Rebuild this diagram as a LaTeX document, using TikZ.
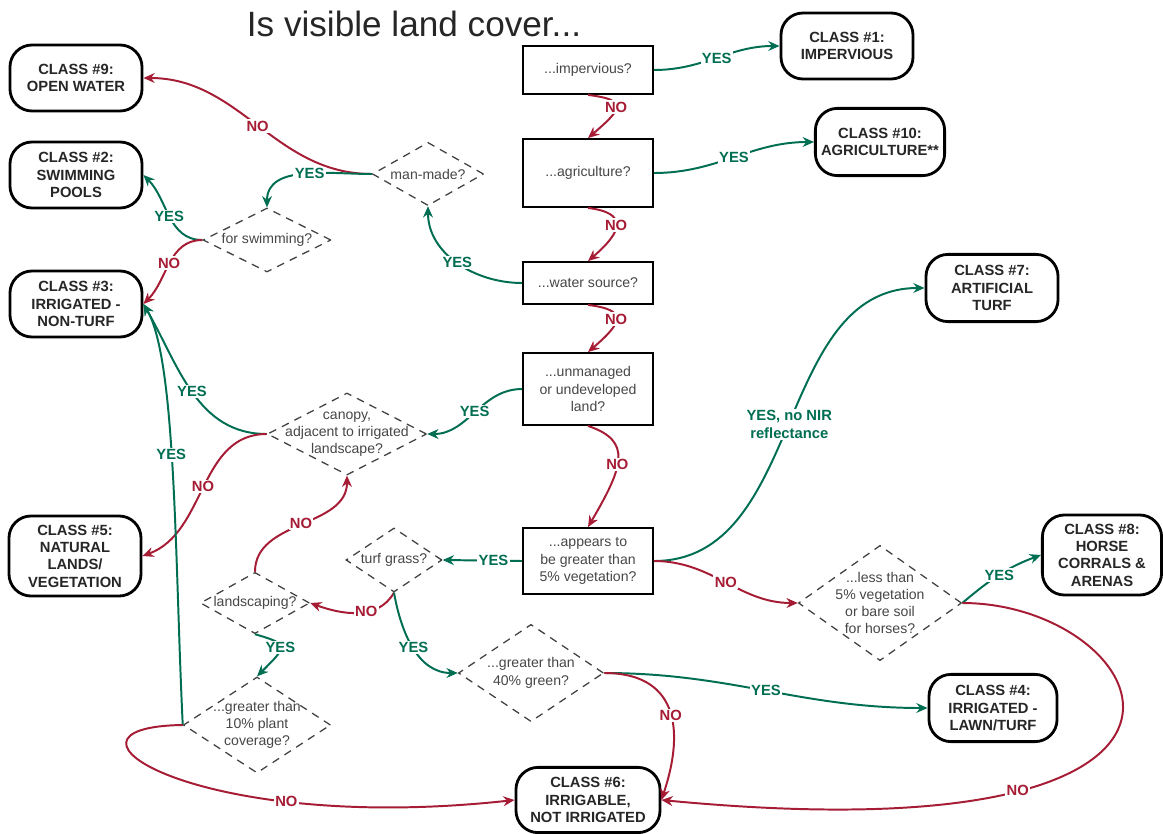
\documentclass[tikz,border=0pt]{standalone}
\usepackage{fontspec}
\setmainfont{Liberation Sans}
\usepackage{tikz}
\usetikzlibrary{shapes.geometric,arrows.meta}
\definecolor{yesgreen}{RGB}{0,110,82}
\definecolor{nored}{RGB}{165,28,52}
\definecolor{asktext}{RGB}{70,70,70}

\tikzset{
  classbox/.style={draw, line width=2pt, rounded corners=0.55cm, align=center, text=black!85,
    font=\bfseries\fontsize{10.5}{12.3}\selectfont, minimum width=3.3cm, minimum height=1.65cm, inner sep=2pt},
  askbox/.style={draw, line width=1.3pt, align=center, text=asktext,
    font=\fontsize{10}{12.3}\selectfont, minimum width=3.25cm, inner sep=2pt},
  askdia/.style={diamond, draw=black!75, line width=0.9pt, dash pattern=on 5.5pt off 4.5pt, inner sep=0pt},
  diatext/.style={align=center, text=asktext, font=\fontsize{10}{12.3}\selectfont, inner sep=0pt},
  yesline/.style={yesgreen, line width=1.4pt, -{Stealth[length=8pt,width=7pt]}},
  noline/.style={nored, line width=1.4pt, -{Stealth[length=8pt,width=7pt]}},
  yeslbl/.style={fill=white, text=yesgreen, font=\bfseries\fontsize{10.5}{12.5}\selectfont, inner sep=1pt, align=center},
  nolbl/.style={fill=white, text=nored, font=\bfseries\fontsize{10.5}{12.5}\selectfont, inner sep=1pt},
}

\begin{document}
\begin{tikzpicture}[x=0.025cm, y=0.025cm]
\useasboundingbox (0,0) rectangle (1163,-834);

% title
\node[text=black!85, font=\fontsize{25}{29}\selectfont] (title) at (414,-24) {Is visible land cover...};

% questions in boxes
\node[askbox, minimum height=1.2cm] (imperv) at (588,-70) {...impervious?};
\node[askbox, minimum height=1.7cm] (agri) at (588,-173) {...agriculture?};
\node[askbox, minimum height=1.05cm] (water) at (588,-283) {...water source?};
\node[askbox, minimum height=1.8cm] (unman) at (588,-389) {...unmanaged\\or undeveloped\\land?};
\node[askbox, minimum height=1.65cm] (veg) at (588,-561) {...appears to\\be greater than\\5\% vegetation?};

% questions in diamonds
\node[askdia, minimum width=2.78cm, minimum height=1.58cm, label={[diatext]center:man-made?}] (manmade) at (428,-174) {};
\node[askdia, minimum width=3.2cm, minimum height=1.6cm, label={[diatext]center:for swimming?}] (swim) at (267,-240) {};
\node[askdia, minimum width=3.98cm, minimum height=2.05cm, label={[diatext]center:{canopy,\\adjacent to irrigated\\landscape?}}] (canopy) at (347,-434) {};
\node[askdia, minimum width=2.4cm, minimum height=1.6cm, label={[diatext]center:turf grass?}] (turf) at (394,-560) {};
\node[askdia, minimum width=2.73cm, minimum height=1.53cm, label={[diatext]center:landscaping?}] (landsc) at (255,-603) {};
\node[askdia, minimum width=3.68cm, minimum height=2.4cm, label={[diatext]center:{...greater than\\10\% plant\\coverage?}}] (plant10) at (257,-725) {};
\node[askdia, minimum width=3.63cm, minimum height=2.43cm, label={[diatext]center:{...greater than\\40\% green?}}] (green40) at (531,-673) {};
\node[askdia, minimum width=4.08cm, minimum height=2.88cm, label={[diatext]center:{...less than\\5\% vegetation\\or bare soil\\for horses?}}] (horses) at (880,-603) {};

% classes
\node[classbox] (c9) at (76,-78) {CLASS \#9:\\OPEN WATER};
\node[classbox] (c2) at (76,-175) {CLASS \#2:\\SWIMMING\\POOLS};
\node[classbox] (c3) at (76,-304) {CLASS \#3:\\IRRIGATED -\\NON-TURF};
\node[classbox, minimum height=2cm] (c5) at (75,-556) {CLASS \#5:\\NATURAL\\LANDS/\\VEGETATION};
\node[classbox] (c1) at (847,-46) {CLASS \#1:\\IMPERVIOUS};
\node[classbox, minimum width=3.23cm, minimum height=1.68cm] (c10) at (880,-142) {CLASS \#10:\\AGRICULTURE**};
\node[classbox, minimum height=1.68cm] (c7) at (992,-288) {CLASS \#7:\\ARTIFICIAL\\TURF};
\node[classbox, minimum width=2.98cm, minimum height=2cm] (c8) at (1102,-555) {CLASS \#8:\\HORSE\\CORRALS \&\\ARENAS};
\node[classbox, minimum width=3.2cm, minimum height=1.68cm] (c4) at (993,-708) {CLASS \#4:\\IRRIGATED -\\LAWN/TURF};
\node[classbox, minimum width=3.6cm, minimum height=1.63cm] (c6) at (588,-800) {CLASS \#6:\\IRRIGABLE,\\NOT IRRIGATED};

% main column
\draw[yesline] (imperv.east) to[out=0, in=180] node[yeslbl] {YES} (c1.west);
\draw[yesline] (agri.east) to[out=0, in=180] node[yeslbl] {YES} (c10.west);
\draw[noline] (imperv.south) .. controls +(40,-5) and +(35,30) .. node[nolbl] {NO} (agri.north);
\draw[noline] (agri.south) .. controls +(40,-5) and +(35,30) .. node[nolbl] {NO} (water.north);
\draw[noline] (water.south) .. controls +(40,-5) and +(35,30) .. node[nolbl] {NO} (unman.north);
\draw[noline] (unman.south) .. controls +(45,-15) and +(35,60) .. node[nolbl, pos=0.55] {NO} (veg.north);

% water branch
\draw[yesline] (water.west) to[out=180, in=-90] node[yeslbl] {YES} (manmade.south);
\draw[noline] (manmade.west) to[out=180, in=0] node[nolbl] {NO} (c9.east);
\draw[yesline] (manmade.west) to[out=180, in=90] node[yeslbl, pos=0.45] {YES} (swim.north);
\draw[yesline] (swim.west) to[out=180, in=-45] node[yeslbl] {YES} (c2.east);
\draw[noline] (swim.west) to[out=180, in=45] node[nolbl] {NO} (c3.east);

% unmanaged branch
\draw[yesline] (unman.west) to[out=180, in=0] node[yeslbl] {YES} (canopy.east);
\draw[yesline] (canopy.west) to[out=180, in=-60] node[yeslbl] {YES} (c3.east);
\draw[noline] (canopy.west) to[out=180, in=20] node[nolbl] {NO} (c5.east);

% vegetation branch
\draw[yesline] (veg.west) -- node[yeslbl, pos=0.36] {YES} (turf.east);
\draw[noline] (turf.south) to[out=-120, in=-20] node[nolbl, pos=0.4] {NO} (landsc.east);
\draw[noline] (landsc.north) to[out=90, in=-90] node[nolbl] {NO} (canopy.south);
\draw[yesline] (landsc.south) .. controls +(35,-10) and +(30,30) .. node[yeslbl] {YES} (plant10.north);
\draw[yesline] (turf.south) to[out=-80, in=180] node[yeslbl] {YES} (green40.west);
\draw[yesline] (plant10.west) .. controls +(-8,165) and +(33,-55) .. node[yeslbl, pos=0.54] {YES} (c3.east);
\draw[noline] (plant10.west) .. controls +(-150,-2) and +(-320,-35) .. node[nolbl, pos=0.72] {NO} (c6.west);
\draw[yesline] (green40.east) to[out=0, in=180] node[yeslbl] {YES} (c4.west);
\draw[noline] (green40.east) .. controls +(70,0) and +(25,75) .. node[nolbl, pos=0.55] {NO} (c6.east);

% low vegetation branch
\draw[yesline] (veg.east) to[out=0, in=180] node[yeslbl] {YES, no NIR\\reflectance} (c7.west);
\draw[noline] (veg.east) to[out=0, in=180] node[nolbl] {NO} (horses.west);
\draw[yesline] (horses.east) to[out=40, in=200] node[yeslbl] {YES} (c8.west);
\draw[noline] (horses.east) .. controls +(190,0) and +(630,-60) .. node[nolbl, pos=0.73] {NO} (c6.east);
\end{tikzpicture}
\end{document}
